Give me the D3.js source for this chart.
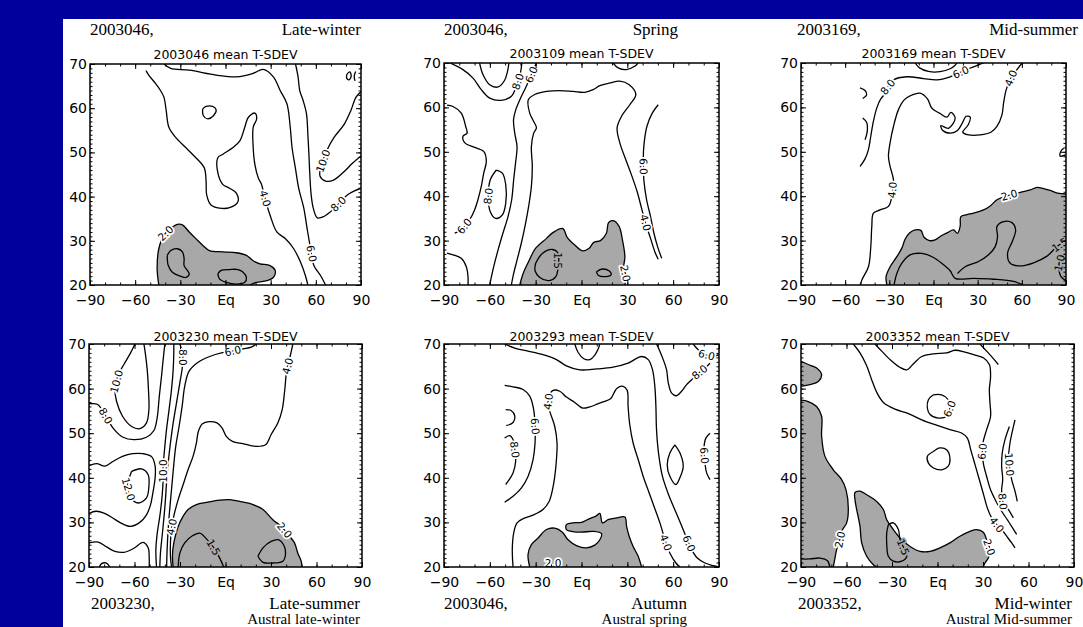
<!DOCTYPE html>
<html>
<head>
<meta charset="utf-8">
<script src="https://cdn.jsdelivr.net/npm/d3@7"></script>
<style>
  body { margin:0; background:#00009c; }
  svg { display:block; }
</style>
</head>
<body>
<svg id="chart" width="1083" height="627"></svg>
<script>
// ---- axes / text ----
const xTicks = [-90,-60,-30,0,30,60,90]
const xTickLabels = ['−90','−60','−30','Eq','30','60','90']
const yTicks = [20,30,40,50,60,70]
const panelTitles = ['2003046 mean T-SDEV','2003109 mean T-SDEV','2003169 mean T-SDEV',
                     '2003230 mean T-SDEV','2003293 mean T-SDEV','2003352 mean T-SDEV']
const headLeft  = ['2003046,','2003046,','2003169,','2003230,','2003046,','2003352,']
const headRight = ['Late-winter','Spring','Mid-summer','Late-summer','Autumn','Mid-winter']
const australText = ['','','','Austral late-winter','Austral spring','Austral Mid-summer']

// ---- contour data, [lon, lat] ----
const p1Lines = [
  [[-52.8,68.5],[-51.0,67.5],[-46.5,65.6],[-43.2,64.0],[-40.9,62.5],[-39.4,59.5],[-37.6,55.7],[-33.1,53.4],[-26.4,51.1],[-19.7,48.8],[-14.1,46.5],[-12.9,43.5],[-12.5,40.4],[-9.6,38.1],[-4.0,37.4],[2.7,37.5],[8.3,38.9],[7.2,40.8],[2.7,41.9],[-1.7,42.7],[-5.1,45.4],[-5.1,48.8],[-1.7,49.6],[5.0,51.1],[9.5,52.6],[12.8,55.7],[15.1,57.9],[19.5,58.9],[20.7,57.6],[18.4,55.7],[18.4,51.1],[19.5,47.3],[21.8,44.2],[24.0,42.7],[25.6,40.4],[29.6,35.8],[34.1,32.0],[39.7,30.5],[45.3,28.2],[49.8,25.2],[53.1,22.1],[54.7,20]],
  [[-40.9,70],[-36.4,69.0],[-24.1,68.6],[-6.2,67.5],[7.2,67.1],[18.4,67.9],[25.1,68.8],[31.8,67.1],[36.3,64.0],[40.8,61.0],[43.0,55.7],[44.2,51.1],[46.4,46.5],[48.6,41.9],[52.0,37.4],[54.2,32.8],[56.5,28.2],[58.7,24.4],[63.2,22.1],[66.5,20]],
  [[46.5,70],[48.2,67.1],[49.3,64.0],[51.5,61.8],[53.8,58.7],[54.7,54.1],[55.4,49.6],[56.0,45.0],[56.9,40.4],[58.3,37.4],[61.0,35.2],[65.4,35.5],[69.9,36.6],[75.5,38.5],[81.1,40.4],[85.6,41.3],[90,41.9]],
  [[90,63.7],[86.7,62.5],[83.3,59.5],[78.9,56.4],[72.1,53.4],[67.7,50.7],[63.2,46.5],[62.8,44.6],[66.6,43.5],[72.1,43.8],[78.9,45.7],[84.5,47.6],[90,49.2]],
  [[-15.2,59.8],[-12.9,60.4],[-8.5,60.4],[-6.2,59.6],[-8.0,58.3],[-11.8,57.6],[-14.7,58.3],[-15.2,59.8]],
  [[80.5,67.6],[82.5,68.2],[83.5,67.3],[82,66.4],[80.5,66.8],[80.5,67.6]],
  [[86.5,68.3],[85.5,67.3],[86,66.2]],
  [[-38.7,26.7],[-36.4,27.8],[-32.0,28.2],[-28.6,27.5],[-27.5,25.9],[-27.5,24.4],[-24.1,22.5],[-26.4,21.7],[-30.9,22.1],[-35.3,22.9],[-38.0,24.4],[-38.7,26.7]],
  [[-5.1,22.5],[-2.9,23.3],[2.7,23.5],[8.3,23.5],[11.7,22.9],[13.9,21.7],[12.8,20.6],[7.2,20.2],[0.5,20.6],[-4.0,21.4],[-5.1,22.5]]
]
const p1Shade = [
  { pts: [[-44.3,20],[-45.4,23.6],[-44.3,28.2],[-40.9,31.3],[-36.4,32.8],[-32.0,33.7],[-28.6,33.6],[-24.1,32.0],[-19.7,30.5],[-15.2,29.0],[-10.7,27.8],[-1.7,27.5],[7.2,27.3],[13.9,26.7],[18.4,25.5],[22.9,24.8],[29.6,24.4],[33.0,23.3],[31.8,21.7],[27.4,21.0],[20.7,20.6],[16.2,20]], edge: [] }
]
const p1Labels = [[-38.7,31.3,'2.0'],[26.2,39.6,'4.0'],[56.9,27.1,'6.0'],[74.4,38.5,'8.0'],[65.4,48.0,'10.0']]

const p2Lines = [
  [[-86,70],[-77.6,68.5],[-71.0,66.6],[-65.6,64.0],[-60.1,62.1],[-52.5,61.6],[-45.9,62.5],[-42.6,64.8],[-40.4,67.0],[-39.0,70]],
  [[-66.7,70],[-64.5,67.4],[-60.1,65.1],[-54.6,64.6],[-50.5,66.0],[-48.5,68.0],[-47.5,70]],
  [[-29.5,70],[-31.5,68.5],[-33.5,66.8],[-36.5,64.5],[-40.0,62.0],[-43.0,59.5],[-44.5,57.2],[-43.7,54.2],[-42.2,51.2],[-43.2,47.4],[-44.4,43.7],[-45.7,39.2],[-48.1,35.4],[-51.4,31.7],[-54.6,27.9],[-57.5,24.1],[-60.1,20]],
  [[-88,60.5],[-84.1,60.2],[-78.7,58.7],[-75.8,55.7],[-74.9,54.2],[-77.6,53.5],[-76.3,52.0],[-69.9,51.0],[-64.0,50.1],[-62.3,47.8],[-64.0,45.2],[-65.6,42.2],[-67.8,39.2],[-70.0,36.9],[-73.2,34.7],[-78.7,32.4],[-83.0,31.7]],
  [[-55.7,45.9],[-51.8,45.2],[-49.6,42.6],[-49.6,38.4],[-51.8,35.8],[-56.2,35.0],[-59.7,36.5],[-61.0,39.9],[-59.7,43.7],[-55.7,45.9]],
  [[-45.9,20],[-44.4,22.6],[-42.2,25.6],[-39.4,29.4],[-37.0,33.2],[-34.6,37.7],[-32.8,42.2],[-32.2,46.7],[-32.8,51.2],[-31.3,54.2],[-29.5,55.4],[-31.7,57.1],[-33.9,58.7],[-34.8,61.7],[-30.6,62.9],[-22.9,63.6],[-14.2,63.8],[-5.5,63.6],[2.1,63.4],[7.6,64.0],[12.0,64.9],[18.5,65.5],[25.1,65.9],[31.2,65.1],[35.6,62.9],[31.6,60.6],[26.2,58.0],[23.3,55.4],[25.1,52.0],[29.0,48.2],[32.7,44.8],[36.4,41.05],[39.3,37.3],[41.9,33.9],[45.2,30.5],[48.0,27.5],[50.2,25.8]],
  [[50.2,60.6],[46.3,58.7],[42.8,55.7],[41.0,52.0],[40.4,48.2],[40.8,43.7],[42.6,39.2],[45.2,35.4],[47.4,31.65],[49.8,28.65],[52.5,26.0]],
  [[20.7,70],[24.0,68.9],[29.3,68.5],[34.8,69.25],[37.0,70]],
  [[-88,27.2],[-84.1,26.8],[-78.7,26.0],[-75.4,24.1],[-74.3,21.9],[-74.3,20]],
  [[-30.0,24.9],[-25.6,27.1],[-19.0,28.0],[-15.3,27.1],[-15.3,24.1],[-16.8,21.9],[-21.2,21.0],[-27.3,21.7],[-30.4,23.2],[-30.0,24.9]],
  [[9.8,23.0],[13.7,23.6],[18.0,23.2],[19.4,22.3],[15.9,21.9],[10.9,22.2],[9.8,23.0]]
]
const p2Shade = [
  { pts: [[-40.4,20],[-38.2,22.6],[-34.3,25.5],[-30.0,28.3],[-22.9,30.5],[-18.3,31.9],[-12.2,32.7],[-9.4,30.75],[-4.4,29.0],[0.6,27.7],[5.0,28.3],[8.0,29.6],[12.4,30.0],[16.3,31.65],[17.7,34.05],[20.7,34.5],[24.6,33.2],[26.8,30.15],[28.4,26.4],[27.7,24.1],[29.0,21.9],[28.4,20]], edge: [] }
]
const p2Labels = [[-42.6,65.9,'8.0'],[-32.8,67.4,'6.0'],[-77.6,33.5,'6.0'],[-60.5,40,'8.0'],[40.4,46.7,'6.0'],[40.4,33.9,'4.0'],[-15.5,25.5,'1.5'],[28.4,22.6,'2.0']]

const p3Lines = [
  [[-49.5,20],[-48.7,21.1],[-44.2,24.1],[-42.6,28.6],[-41.9,33.2],[-40.8,36.2],[-36.3,36.9],[-30.6,37.7],[-28.3,39.9],[-27.2,43.7],[-29.5,46.7],[-30.6,49.0],[-29.5,52.0],[-27.2,55.7],[-23.8,59.5],[-19.9,61.7],[-15.9,62.6],[-9.1,63.2],[-4.1,61.9],[-1.1,59.8],[4.1,58.7],[9.1,57.8],[11.8,58.9],[14.7,57.6],[10.2,55.3],[5.0,55.9],[6.3,54.8],[11.8,54.2],[16.3,54.8],[19.3,56.3],[22.2,58.0],[24.9,57.8],[23.6,56.1],[19.9,54.4],[23.8,53.8],[31.7,53.8],[39.0,54.4],[43.1,55.7],[46.5,58.3],[47.6,61.0],[49.4,64.0],[52.6,66.6],[56.7,68.5],[60.1,70]],
  [[-31.0,64.6],[-27.2,66.2],[-18.1,66.9],[-6.8,66.5],[2.3,66.2],[11.3,66.9],[16.3,67.6],[23.8,68.7],[30.6,69.6],[34.0,70]],
  [[-49.9,46.7],[-46.5,48.4],[-44.2,50.5],[-42.6,53.5],[-40.8,56.9],[-38.5,59.9],[-35.8,61.9],[-31.7,63.4]],
  [[-12.5,70],[-9.5,68.9],[-3.4,68.1],[4.5,68.05],[11.3,68.7],[14.7,69.5],[15.9,70]],
  [[-49.9,64.4],[-46.5,63.8],[-45.4,62.9],[-48.1,62.0]],
  [[-48.1,57.6],[-45.4,56.6],[-45.0,54.6],[-46.5,52.7]],
  [[88.4,50.8],[86.5,50.1],[86.1,49.0],[89.5,49.3]],
  [[-26.8,20],[-24.9,22.6],[-21.5,24.9],[-15.9,26.8],[-7.9,27.1],[0.0,26.2],[6.3,24.7],[11.3,23.2],[14.7,21.5],[27.2,21.5],[40.8,21.3],[54.4,20.8],[60.8,20]],
  [[16.3,22.6],[21.5,24.1],[30.6,25.3],[37.4,26.8],[41.9,28.65],[43.5,30.9],[43.1,33.2],[47.6,34.3],[53.3,34.05],[55.8,32.4],[53.5,29.8],[50.3,27.1],[52.1,24.9],[58.9,24.3],[68.0,25.0],[77.1,26.5],[83.4,28.5],[90,30.0]],
  [[90,27.0],[86.6,26.3],[85.2,24.1],[86.6,21.9],[90,21.0]]
]
const p3Shade = [
  { pts: [[-31.7,20],[-32.2,21.9],[-29.5,24.1],[-24.9,26.4],[-21.5,28.3],[-19.3,30.3],[-16.3,31.7],[-12.5,32.4],[-8.6,32.3],[-6.4,30.75],[-2.7,30.0],[1.1,30.15],[5.0,31.05],[9.5,31.8],[13.6,32.4],[16.3,31.65],[18.1,33.2],[18.6,35.4],[22.2,35.8],[27.2,36.2],[34.0,36.9],[38.5,37.8],[43.1,39.2],[48.1,39.9],[54.4,40.5],[60.1,41.0],[65.7,41.4],[70.3,42.0],[74.8,41.7],[79.3,41.3],[84.3,40.7],[90,40.5]], edge: [[90,20]] }
]
const p3Labels = [[-27.7,41.4,'4.0'],[48.7,67.4,'4.0'],[18.6,67.9,'6.0'],[-29.5,64.2,'8.0'],[51.7,39.9,'2.0'],[82.7,30.5,'1.5'],[86.6,24.9,'1.0']]

const p4Lines = [
  [[-59.7,70],[-62.6,68.0],[-67.0,65.4],[-70.7,63.1],[-72.9,60.1],[-71.8,57.1],[-67.9,53.8],[-61.9,51.5],[-56.5,51.0],[-52.1,52.3],[-50.5,55.3],[-50.8,59.8],[-51.6,64.2],[-52.9,68.0],[-53.8,70]],
  [[-90,56.6],[-84.5,56.5],[-81.7,55.4],[-77.9,53.2],[-73.6,50.9],[-67.9,49.15],[-60.4,48.55],[-52.1,49.1],[-47.2,50.6],[-45.0,53.6],[-43.7,58.1],[-42.2,62.75],[-41.1,66.5],[-40.0,70]],
  [[-90,42.7],[-85.0,43.2],[-79.5,42.6],[-74.0,43.7],[-67.9,44.8],[-61.3,45.4],[-54.3,45.4],[-48.6,44.7],[-46.4,42.6],[-46.4,40.0],[-47.7,37.0],[-49.4,34.0],[-52.1,31.7],[-56.5,30.0],[-62.6,29.1],[-69.2,29.9],[-74.4,31.0],[-80.1,32.1],[-85.4,32.5],[-90,32.0]],
  [[-61.9,41.45],[-55.4,42.0],[-51.0,40.7],[-50.5,38.1],[-52.1,35.5],[-57.6,34.35],[-62.4,35.5],[-64.6,38.1],[-61.9,41.45]],
  [[-45.5,20],[-45.9,23.9],[-45.0,27.6],[-43.3,31.4],[-41.8,35.85],[-41.1,39.6],[-41.1,42.6],[-40.2,46.3],[-38.9,50.8],[-37.2,55.3],[-35.6,59.8],[-34.5,64.2],[-34.1,68.0],[-34.1,70]],
  [[-90,25.4],[-83.9,25.6],[-78.4,24.5],[-72.9,23.5],[-67.0,23.3],[-60.4,24.2],[-54.3,25.5],[-51.0,24.3],[-50.3,22.0],[-50.3,20]],
  [[-30.1,70],[-28.4,68.0],[-28.4,65.0],[-30.1,61.3],[-32.3,56.8],[-34.5,52.3],[-36.3,47.8],[-37.8,43.3],[-38.9,38.8],[-39.6,35.1],[-40.5,31.4],[-41.8,26.9],[-42.9,23.1],[-43.3,20]],
  [[20.3,70],[17.0,69.3],[11.5,68.9],[4.9,68.4],[-2.7,68.0],[-10.4,67.2],[-18.1,65.9],[-24.0,63.9],[-26.9,60.5],[-28.6,56.0],[-30.6,51.5],[-32.8,47.05],[-34.0,43.3],[-35.0,39.6],[-36.0,35.85],[-37.0,32.1],[-37.8,28.4],[-38.5,23.9],[-38.8,20]],
  [[44.4,70],[42.6,67.2],[40.4,64.2],[39.1,59.8],[37.4,55.3],[34.5,52.3],[30.1,49.7],[26.4,47.4],[19.8,47.05],[11.5,47.65],[4.9,48.1],[0.5,49.3],[-2.3,51.2],[-5.6,52.3],[-10.9,52.6],[-15.2,52.1],[-17.9,50.4],[-19.2,47.8],[-21.4,44.8],[-24.7,41.8],[-27.9,38.5],[-31.2,35.1],[-34.1,31.4],[-35.6,28.7],[-36.3,25.4],[-36.3,22.4],[-35.6,20]],
  [[-83.2,20],[-81.7,20.75],[-78.8,20.9],[-76.2,20]],
  [[-31.2,20],[-30.1,23.1],[-26.9,25.4],[-21.8,27.0],[-17.0,27.6],[-12.6,26.3],[-8.2,24.5],[-3.8,22.0],[-1.2,20]],
  [[21.4,22.4],[24.7,24.3],[30.1,25.75],[35.2,26.1],[38.3,25.0],[39.6,23.1],[37.8,21.3],[31.2,20.9],[24.7,21.05],[21.4,22.4]]
]
const p4Shade = [
  { pts: [[-34.5,20],[-35.0,22.4],[-34.1,25.4],[-31.2,29.1],[-27.9,31.4],[-24.7,32.9],[-19.2,34.0],[-12.6,34.5],[-3.8,35.0],[2.7,35.1],[9.3,34.7],[18.1,34.0],[24.7,32.9],[31.2,30.6],[36.7,29.1],[42.2,26.9],[45.5,25.4],[47.7,23.1],[49.9,21.3],[50.5,20]], edge: [] }
]
const p4Labels = [[-72.0,61.6,'10.0'],[-79.0,53.9,'8.0'],[-65.7,37.3,'12.0'],[-41.1,41.5,'10.0'],[-35.6,29.0,'4.0'],[-27.5,67.0,'8.0'],[4.9,68.4,'6.0'],[41.5,65.0,'4.0'],[-8.5,24.3,'1.5'],[38.0,28.0,'2.0']]

const p5Lines = [
  [[-50.3,70],[-43.7,69.1],[-35.0,68.4],[-25.2,67.6],[-16.4,66.5],[-9.9,65.1],[-1.1,64.2],[9.8,64.4],[20.7,64.8],[30.5,65.7],[39.3,67.2],[43.7,66.5],[46.5,64.2],[48.0,60.5],[48.7,56.0],[49.1,50.8],[50.4,45.6],[53.0,40.3],[57.4,35.85],[62.9,31.4],[68.3,26.9],[72.1,23.9],[75.8,22.0],[80.8,20.9],[86.3,20.3],[90,20.0]],
  [[-4.4,70],[-2.2,68.1],[1.5,66.7],[5.4,66.5],[8.7,67.5],[10.9,68.9],[12.0,70]],
  [[49.1,70],[51.3,68.4],[53.5,66.5],[55.7,64.2],[56.8,61.3],[59.0,59.0],[62.2,58.4],[65.5,59.4],[68.8,60.9],[72.1,62.0],[75.3,63.1],[80.8,64.6],[84.1,65.7]],
  [[73.1,70],[76.4,68.7],[80.8,67.6],[85.2,67.2],[90,67.6]],
  [[-50.3,60.7],[-44.8,60.4],[-38.3,59.8],[-33.9,58.3],[-31.3,55.3],[-30.4,51.5],[-30.4,47.8],[-31.7,44.1],[-35.0,40.3],[-39.4,37.7],[-44.8,35.85],[-50.3,34.5]],
  [[-49.6,55.3],[-45.9,55.05],[-43.7,53.9],[-44.8,52.4],[-49.2,51.7]],
  [[-50.3,48.9],[-47.0,49.45],[-44.4,48.2],[-43.7,46.3],[-43.1,43.7],[-44.8,41.1],[-49.6,38.5]],
  [[-44.8,20],[-45.3,23.9],[-44.4,27.6],[-42.2,29.9],[-37.8,30.9],[-31.3,31.7],[-25.2,32.9],[-21.2,34.7],[-19.0,37.3],[-17.5,40.3],[-16.4,44.1],[-16.0,47.8],[-17.5,51.5],[-20.4,54.5],[-21.9,56.4],[-21.2,58.3],[-18.6,59.6],[-14.2,59.4],[-9.9,58.1],[-4.4,56.9],[0.6,55.65],[5.4,55.9],[10.2,56.5],[14.6,57.1],[19.0,57.7],[21.2,59.0],[23.3,60.1],[27.3,60.5],[29.9,59.6],[30.5,56.0],[31.6,51.9],[33.8,47.8],[37.1,44.1],[40.4,40.3],[44.3,36.6],[48.2,32.9],[51.7,29.5],[54.6,26.1],[57.9,23.1],[61.8,20.9],[64.4,20]],
  [[61.1,47.4],[64.4,45.6],[66.6,42.6],[64.4,40.0],[61.8,38.5],[57.9,40.3],[56.1,42.95],[57.9,45.6],[61.1,47.4]],
  [[84.1,50.0],[81.4,48.9],[80.1,46.3],[80.8,43.3],[81.9,41.1],[84.1,39.6]]
]
const p5Shade = [
  { pts: [[-33.9,20],[-35.0,22.8],[-32.8,25.0],[-28.4,26.5],[-22.9,28.4],[-17.5,28.7],[-12.5,27.8],[-8.8,26.1],[-3.3,24.8],[3.2,24.3],[8.7,24.9],[12.0,26.1],[13.1,27.5],[7.6,28.0],[0.0,27.8],[-6.6,28.0],[-9.9,28.4],[-9.9,29.5],[-5.5,29.9],[0.0,30.0],[5.0,30.8],[9.4,31.4],[12.0,32.0],[13.7,29.9],[17.4,30.6],[22.9,31.0],[28.4,31.2],[29.5,29.1],[31.2,26.9],[33.8,24.6],[37.1,22.4],[39.3,20]], edge: [] }
]
const p5Labels = [[-21.9,57.1,'4.0'],[54.6,25.4,'4.0'],[-31.5,51.5,'6.0'],[-44.0,46.3,'8.0'],[70.5,25.3,'6.0'],[81,45,'6.0'],[77.5,63.6,'8.0'],[81.9,67.6,'6.0'],[-18.6,20.9,'2.0']]

const p6Lines = [
  [[-90,21.8],[-84.1,21.8],[-77.5,22.0],[-72.5,21.4],[-71,20]],
  [[-32.4,29.5],[-29.1,29.9],[-25.8,28.4],[-24.7,26.1],[-20.3,22.4],[-23.6,21.3],[-29.1,21.3],[-32.4,22.4],[-33.5,25.4],[-33.5,27.6],[-32.4,29.5]],
  [[-55.5,70],[-51.1,68.0],[-46.7,65.1],[-43.4,62.0],[-40.1,59.2],[-35.7,56.9],[-28.0,55.4],[-19.2,54.4],[-10.4,53.0],[-1.6,51.9],[8.2,50.8],[15.9,50.05],[19.7,48.9],[21.9,46.3],[24.1,43.7],[26.3,41.1],[28.5,38.5],[30.7,35.85],[32.9,33.2],[35.7,31.0],[39.0,29.5],[42.3,28.4],[45.6,26.9],[48.9,25.4],[51.1,24.3]],
  [[-41.2,70],[-36.8,68.4],[-31.3,66.5],[-25.2,64.85],[-20.3,64.2],[-15.5,65.7],[-10.4,67.2],[-2.7,67.8],[6.0,68.0],[11.5,68.6],[18.1,68.2],[24.7,67.5],[30.2,66.9],[34.2,65.4],[35.0,62.75],[34.2,59.8],[34.6,56.8],[35.0,53.8],[32.4,50.8],[30.2,48.2],[29.6,45.9],[30.2,43.3],[32.4,40.3],[35.0,37.3],[38.6,34.7],[42.3,32.5],[46.0,30.6],[49.6,28.7],[52.2,27.3]],
  [[47.4,51.5],[44.5,48.55],[42.7,45.6],[42.3,42.6],[43.0,39.6],[42.3,37.3],[43.0,34.7],[46.7,32.9],[50.0,31.0]],
  [[51.1,53.0],[49.6,50.8],[47.8,47.8],[46.9,44.8],[47.4,42.6],[48.9,39.6],[51.1,37.0],[52.6,34.7]],
  [[28.0,70],[32.4,68.4],[36.4,66.9],[40.1,65.4]],
  [[-2.7,58.6],[2.7,58.6],[7.1,57.5],[8.2,55.65],[6.0,53.8],[0.5,53.4],[-4.9,54.2],[-6.7,55.65],[-6.0,57.5],[-2.7,58.6]],
  [[-2.7,45.9],[1.6,46.7],[6.0,46.3],[8.2,44.4],[7.1,42.6],[2.7,41.8],[-2.7,42.2],[-6.0,43.3],[-6.7,44.8],[-2.7,45.9]]
]
const p6Shade = [
  { pts: [[-90,66.1],[-85.2,65.4],[-79.7,64.6],[-76.4,63.1],[-78.6,61.6],[-84.1,60.9],[-90,60.5]], edge: [] },
  { pts: [[-90,57.4],[-85.2,57.1],[-79.7,56.0],[-76.4,53.8],[-76.4,49.3],[-74.2,44.8],[-68.7,41.8],[-63.2,39.6],[-60.3,37.3],[-58.8,32.9],[-59.9,29.9],[-63.2,28.0],[-64.3,26.1],[-66.5,23.9],[-67.6,22.0],[-68.7,20]], edge: [[-90,20]] },
  { pts: [[-40.1,20],[-42.3,20.5],[-46.7,22.4],[-50.0,25.4],[-51.1,29.1],[-53.3,32.9],[-54.4,35.1],[-54.4,36.7],[-51.1,37.0],[-46.7,36.2],[-40.1,34.7],[-35.7,32.9],[-33.5,30.6],[-29.1,28.4],[-24.7,26.5],[-18.1,24.6],[-11.5,23.5],[-4.9,23.5],[1.6,24.3],[8.2,25.4],[14.8,26.9],[21.4,28.0],[25.8,28.4],[30.2,27.8],[32.4,26.1],[34.6,23.9],[33.5,22.0],[31.3,20.9],[30.2,20]], edge: [] }
]
const p6Labels = [[-63.5,26.1,'2.0'],[-23.9,24.3,'1.5'],[33.0,24.3,'2.0'],[9.3,55.3,'6.0'],[29.6,45.9,'6.0'],[46.9,43.0,'10.0'],[43.0,34.7,'8.0'],[39.0,29.5,'4.0']]

// ---- layout ----
const boxes = [
  {x0:90,  x1:361,  y0:64,  y1:285},
  {x0:444, x1:719,  y0:63,  y1:285},
  {x0:801, x1:1066, y0:63,  y1:285},
  {x0:89,  x1:362,  y0:344, y1:567},
  {x0:444, x1:719,  y0:344, y1:567},
  {x0:801, x1:1074, y0:344, y1:567}
]
const headPos = [
  {lx:90,  rx:361,  y:35},
  {lx:444, rx:678,  y:35},
  {lx:797, rx:1078, y:35},
  {lx:91,  rx:360,  y:609},
  {lx:444, rx:687,  y:609},
  {lx:798, rx:1072, y:609}
]
const panels = [
  {lines:p1Lines, shade:p1Shade, labels:p1Labels},
  {lines:p2Lines, shade:p2Shade, labels:p2Labels},
  {lines:p3Lines, shade:p3Shade, labels:p3Labels},
  {lines:p4Lines, shade:p4Shade, labels:p4Labels},
  {lines:p5Lines, shade:p5Shade, labels:p5Labels},
  {lines:p6Lines, shade:p6Shade, labels:p6Labels}
]

const W = 1083, H = 627
const svg = d3.select('#chart')
const sansFont = "'DejaVu Sans', Verdana, sans-serif"
const serifFont = "'Liberation Serif', 'Times New Roman', serif"
const shadeColor = '#a8a8a8'

svg.append('rect').attr('width', W).attr('height', H).attr('fill', '#00009c')
svg.append('rect').attr('x', 63).attr('y', 19).attr('width', W - 63).attr('height', H - 19).attr('fill', '#fff')

// nearest point on any polyline, in screen coords
function nearestSeg(polys, px, py){
  let best = { d: Infinity }
  polys.forEach(pl => {
    for(let i = 0; i < pl.length - 1; i++){
      let [ax, ay] = pl[i], [bx, by] = pl[i+1]
      let dx = bx - ax, dy = by - ay
      let L = dx*dx + dy*dy
      let t = L ? Math.max(0, Math.min(1, ((px-ax)*dx + (py-ay)*dy) / L)) : 0
      let qx = ax + t*dx, qy = ay + t*dy
      let d = Math.hypot(px - qx, py - qy)
      if(d < best.d) best = { d, x: qx, y: qy, ang: Math.atan2(dy, dx) * 180 / Math.PI }
    }
  })
  return best
}

function drawPanel(p, i){
  let b = boxes[i]
  let x = d3.scaleLinear().domain([-90, 90]).range([b.x0, b.x1])
  let y = d3.scaleLinear().domain([20, 70]).range([b.y1, b.y0])
  let g = svg.append('g').attr('class', 'panel' + i)

  g.append('clipPath').attr('id', 'clip' + i)
    .append('rect').attr('x', b.x0).attr('y', b.y0)
    .attr('width', b.x1 - b.x0).attr('height', b.y1 - b.y0)
  let body = g.append('g').attr('clip-path', `url(#clip${i})`)

  let line = d3.line().x(d => x(d[0])).y(d => y(d[1])).curve(d3.curveCatmullRom.alpha(0.5))

  // shaded (< 2.0) areas
  p.shade.forEach(s => {
    let d = line(s.pts) + s.edge.map(e => 'L' + x(e[0]) + ',' + y(e[1])).join('') + 'Z'
    body.append('path').attr('d', d).attr('fill', shadeColor)
  })
  p.shade.forEach(s => {
    body.append('path').attr('d', line(s.pts))
      .attr('fill', 'none').attr('stroke', '#000').attr('stroke-width', 1.3)
  })
  p.lines.forEach(l => {
    body.append('path').attr('d', line(l))
      .attr('fill', 'none').attr('stroke', '#000').attr('stroke-width', 1.3)
      .attr('stroke-linejoin', 'round')
  })

  // contour labels, laid along the nearest line
  let polys = p.lines.concat(p.shade.map(s => s.pts)).map(pl => pl.map(q => [x(q[0]), y(q[1])]))
  p.labels.forEach(([lon, lat, txt]) => {
    let px = x(lon), py = y(lat)
    let n = nearestSeg(polys, px, py)
    let ang = 0
    if(n.d < 10){
      px = n.x; py = n.y; ang = n.ang
      if(ang > 90) ang -= 180
      if(ang < -90) ang += 180
    }
    body.append('text')
      .attr('transform', `translate(${px},${py}) rotate(${ang})`)
      .attr('text-anchor', 'middle').attr('dy', '0.35em')
      .attr('font-family', sansFont).attr('font-size', 10.5)
      .attr('fill', '#000')
      .attr('stroke', parseFloat(txt) < 2 ? shadeColor : '#fff')
      .attr('stroke-width', 3.5).attr('paint-order', 'stroke')
      .attr('stroke-linejoin', 'round')
      .text(txt)
  })

  // axes: inward ticks on all four sides
  let styleAxis = a => { a.select('.domain').remove(); a.selectAll('line').attr('stroke', '#000').attr('stroke-width', 1) }
  let xMinor = d3.range(-90, 91, 10), yMinor = d3.range(20, 71, 1)

  g.append('g').attr('transform', `translate(0,${b.y1})`)
    .call(d3.axisBottom(x).tickValues(xMinor).tickSize(-2.5).tickFormat('')).call(styleAxis)
  g.append('g').attr('transform', `translate(0,${b.y0})`)
    .call(d3.axisTop(x).tickValues(xMinor).tickSize(-2.5).tickFormat('')).call(styleAxis)
  g.append('g').attr('transform', `translate(0,${b.y0})`)
    .call(d3.axisTop(x).tickValues(xTicks).tickSize(-5).tickFormat('')).call(styleAxis)
  let xb = g.append('g').attr('transform', `translate(0,${b.y1})`)
    .call(d3.axisBottom(x).tickValues(xTicks).tickSize(-5).tickPadding(10).tickFormat((d, k) => xTickLabels[k]))
    .call(styleAxis)
  xb.selectAll('text').attr('font-family', sansFont).attr('font-size', 14).attr('fill', '#000')

  g.append('g').attr('transform', `translate(${b.x0},0)`)
    .call(d3.axisLeft(y).tickValues(yMinor).tickSize(-2.5).tickFormat('')).call(styleAxis)
  g.append('g').attr('transform', `translate(${b.x1},0)`)
    .call(d3.axisRight(y).tickValues(yMinor).tickSize(-2.5).tickFormat('')).call(styleAxis)
  g.append('g').attr('transform', `translate(${b.x1},0)`)
    .call(d3.axisRight(y).tickValues(yTicks).tickSize(-5).tickFormat('')).call(styleAxis)
  let yl = g.append('g').attr('transform', `translate(${b.x0},0)`)
    .call(d3.axisLeft(y).tickValues(yTicks).tickSize(-5).tickPadding(3).tickFormat(d3.format('d')))
    .call(styleAxis)
  yl.selectAll('text').attr('font-family', sansFont).attr('font-size', 14).attr('fill', '#000')

  g.append('rect').attr('x', b.x0).attr('y', b.y0)
    .attr('width', b.x1 - b.x0).attr('height', b.y1 - b.y0)
    .attr('fill', 'none').attr('stroke', '#000').attr('stroke-width', 1.5)

  // panel title
  g.append('text')
    .attr('x', (b.x0 + b.x1) / 2).attr('y', b.y0 - (i < 3 ? 5 : 3))
    .attr('text-anchor', 'middle')
    .attr('font-family', sansFont).attr('font-size', 12.5).attr('fill', '#000')
    .text(panelTitles[i])

  // date / season captions
  let h = headPos[i]
  g.append('text').attr('x', h.lx).attr('y', h.y)
    .attr('font-family', serifFont).attr('font-size', 17).attr('fill', '#000')
    .text(headLeft[i])
  g.append('text').attr('x', h.rx).attr('y', h.y).attr('text-anchor', 'end')
    .attr('font-family', serifFont).attr('font-size', 17).attr('fill', '#000')
    .text(headRight[i])
  if(australText[i]){
    g.append('text').attr('x', h.rx).attr('y', h.y + 15).attr('text-anchor', 'end')
      .attr('font-family', serifFont).attr('font-size', 15).attr('fill', '#000')
      .text(australText[i])
  }
}

panels.forEach((p, i) => drawPanel(p, i))
</script>
</body>
</html>
